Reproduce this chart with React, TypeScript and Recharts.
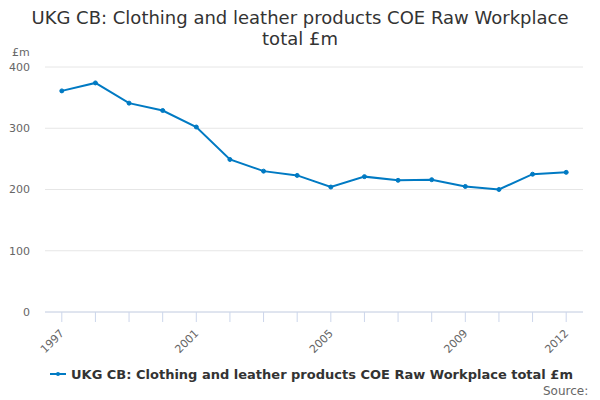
import React from "react";
import { CartesianGrid, Line, LineChart, XAxis, YAxis } from "recharts";

const years = ["1997", "1998", "1999", "2000", "2001", "2002", "2003", "2004", "2005", "2006", "2007", "2008", "2009", "2010", "2011", "2012"];
const values = [361, 374, 341, 329, 302, 249, 230, 223, 204, 221, 215, 216, 205, 200, 225, 228];
const labelledYears = ["1997", "2001", "2005", "2009", "2012"];
const yTicks = [0, 100, 200, 300, 400];

const seriesName = "UKG CB: Clothing and leather products COE Raw Workplace total £m";
const blue = "#007ac3";
const font = "'DejaVu Sans', sans-serif";

const data = years.map((year, i) => ({ year, value: values[i] }));

function YearTick(props: any) {
  const { x, y, payload } = props;
  if (!labelledYears.includes(payload.value)) return null;
  return (
    <text
      x={x + 3}
      y={y + 10}
      transform={`rotate(-45, ${x + 3}, ${y + 10})`}
      textAnchor="end"
      fill="#666"
      fontSize={11}
      fontFamily={font}
    >
      {payload.value}
    </text>
  );
}

export default function App() {
  return (
    <div style={{ position: "absolute", left: 0, top: 0, width: 600, height: 400, background: "#fff", fontFamily: font }}>
      <div style={{ position: "absolute", top: 7, left: 0, width: 600, textAlign: "center", fontSize: 18, lineHeight: "21px", color: "#333" }}>
        UKG CB: Clothing and leather products COE Raw Workplace
        <br />
        total £m
      </div>
      <div style={{ position: "absolute", top: 46, left: 12, fontSize: 11, color: "#666" }}>£m</div>

      <LineChart width={600} height={400} data={data} margin={{ top: 67, right: 17, bottom: 0, left: 0 }}>
        <CartesianGrid vertical={false} stroke="#e6e6e6" />
        <XAxis
          dataKey="year"
          interval={0}
          padding={{ left: 16.8, right: 16.8 }}
          stroke="#ccd6eb"
          tickLine={{ stroke: "#ccd6eb" }}
          tickSize={10}
          height={88}
          tick={<YearTick />}
        />
        <YAxis
          domain={[0, 400]}
          ticks={yTicks}
          width={45}
          axisLine={false}
          tickLine={false}
          tickSize={0}
          tickMargin={15}
          tick={{ fill: "#666", fontSize: 11, fontFamily: font }}
        />
        <Line
          dataKey="value"
          stroke={blue}
          strokeWidth={2}
          dot={{ r: 2, fill: blue, stroke: blue, strokeWidth: 1 }}
          isAnimationActive={false}
        />
      </LineChart>

      <div style={{ position: "absolute", top: 366, left: 50, display: "flex", alignItems: "center" }}>
        <svg width={16} height={16}>
          <line x1={0} y1={8} x2={16} y2={8} stroke={blue} strokeWidth={2} />
          <circle cx={8} cy={8} r={2} fill={blue} />
        </svg>
        <span style={{ marginLeft: 5, fontSize: 13, fontWeight: "bold", color: "#333" }}>{seriesName}</span>
      </div>
      <div style={{ position: "absolute", top: 384, left: 543, fontSize: 12, color: "#666" }}>Source:</div>
    </div>
  );
}
